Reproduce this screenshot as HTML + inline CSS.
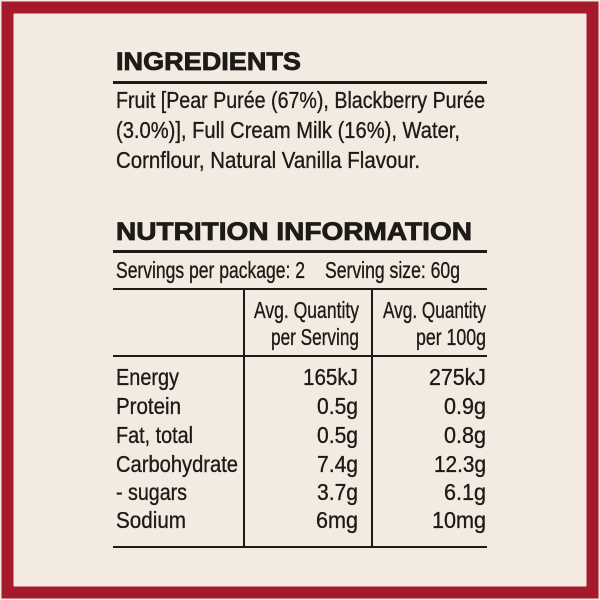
<!DOCTYPE html>
<html><head><meta charset="utf-8"><style>
html,body{margin:0;padding:0;background:#f3ebe1;}
svg{display:block}
</style></head><body>
<svg width="600" height="600" viewBox="0 0 600 600" xmlns="http://www.w3.org/2000/svg">
<rect x="0" y="0" width="600" height="600" fill="#f3ebe1"/>
<rect x="7.5" y="7.5" width="585" height="585" fill="none" stroke="#a51a2a" stroke-width="12"/>
<g fill="#1d1a17" stroke="#1d1a17" stroke-width="0.35" font-family="'Liberation Sans',sans-serif" font-size="23.5">
<text x="116" y="70" font-weight="bold" font-size="25" stroke-width="0.8" textLength="185" lengthAdjust="spacingAndGlyphs">INGREDIENTS</text>
<rect x="113" y="81" width="374" height="3" stroke="none"/>
<text x="116" y="108" textLength="369" lengthAdjust="spacingAndGlyphs">Fruit [Pear Purée (67%), Blackberry Purée</text>
<text x="116" y="138" textLength="344" lengthAdjust="spacingAndGlyphs">(3.0%)], Full Cream Milk (16%), Water,</text>
<text x="116" y="168" textLength="304" lengthAdjust="spacingAndGlyphs">Cornflour, Natural Vanilla Flavour.</text>
<text x="116" y="240" font-weight="bold" font-size="25" stroke-width="0.8" textLength="356" lengthAdjust="spacingAndGlyphs">NUTRITION INFORMATION</text>
<rect x="113" y="250" width="374" height="3" stroke="none"/>
<text x="116" y="278" textLength="189" lengthAdjust="spacingAndGlyphs">Servings per package: 2</text>
<text x="325" y="278" textLength="135" lengthAdjust="spacingAndGlyphs">Serving size: 60g</text>
<rect x="113" y="288" width="374" height="2" stroke="none"/>
<rect x="243" y="289" width="2" height="258" stroke="none"/>
<rect x="371" y="289" width="2" height="258" stroke="none"/>
<rect x="113" y="355" width="374" height="2" stroke="none"/>
<rect x="113" y="546" width="374" height="2" stroke="none"/>
<g text-anchor="end">
<text x="359" y="318" textLength="105" lengthAdjust="spacingAndGlyphs">Avg. Quantity</text>
<text x="359" y="345" textLength="88" lengthAdjust="spacingAndGlyphs">per Serving</text>
<text x="486" y="318" textLength="103" lengthAdjust="spacingAndGlyphs">Avg. Quantity</text>
<text x="486" y="345" textLength="70" lengthAdjust="spacingAndGlyphs">per 100g</text>
<text x="358" y="385" textLength="55" lengthAdjust="spacingAndGlyphs">165kJ</text>
<text x="358" y="414" textLength="41" lengthAdjust="spacingAndGlyphs">0.5g</text>
<text x="358" y="443" textLength="41" lengthAdjust="spacingAndGlyphs">0.5g</text>
<text x="358" y="472" textLength="41" lengthAdjust="spacingAndGlyphs">7.4g</text>
<text x="358" y="500" textLength="41" lengthAdjust="spacingAndGlyphs">3.7g</text>
<text x="358" y="528" textLength="42" lengthAdjust="spacingAndGlyphs">6mg</text>
<text x="486" y="385" textLength="57" lengthAdjust="spacingAndGlyphs">275kJ</text>
<text x="486" y="414" textLength="42" lengthAdjust="spacingAndGlyphs">0.9g</text>
<text x="486" y="443" textLength="42" lengthAdjust="spacingAndGlyphs">0.8g</text>
<text x="486" y="472" textLength="52" lengthAdjust="spacingAndGlyphs">12.3g</text>
<text x="486" y="500" textLength="42" lengthAdjust="spacingAndGlyphs">6.1g</text>
<text x="486" y="528" textLength="54" lengthAdjust="spacingAndGlyphs">10mg</text>
</g>
<text x="116" y="385" textLength="63" lengthAdjust="spacingAndGlyphs">Energy</text>
<text x="116" y="414" textLength="65" lengthAdjust="spacingAndGlyphs">Protein</text>
<text x="116" y="443" textLength="77" lengthAdjust="spacingAndGlyphs">Fat, total</text>
<text x="116" y="472" textLength="122" lengthAdjust="spacingAndGlyphs">Carbohydrate</text>
<text x="116" y="500" textLength="71" lengthAdjust="spacingAndGlyphs">- sugars</text>
<text x="116" y="528" textLength="70" lengthAdjust="spacingAndGlyphs">Sodium</text>
</g>
</svg>
</body></html>
